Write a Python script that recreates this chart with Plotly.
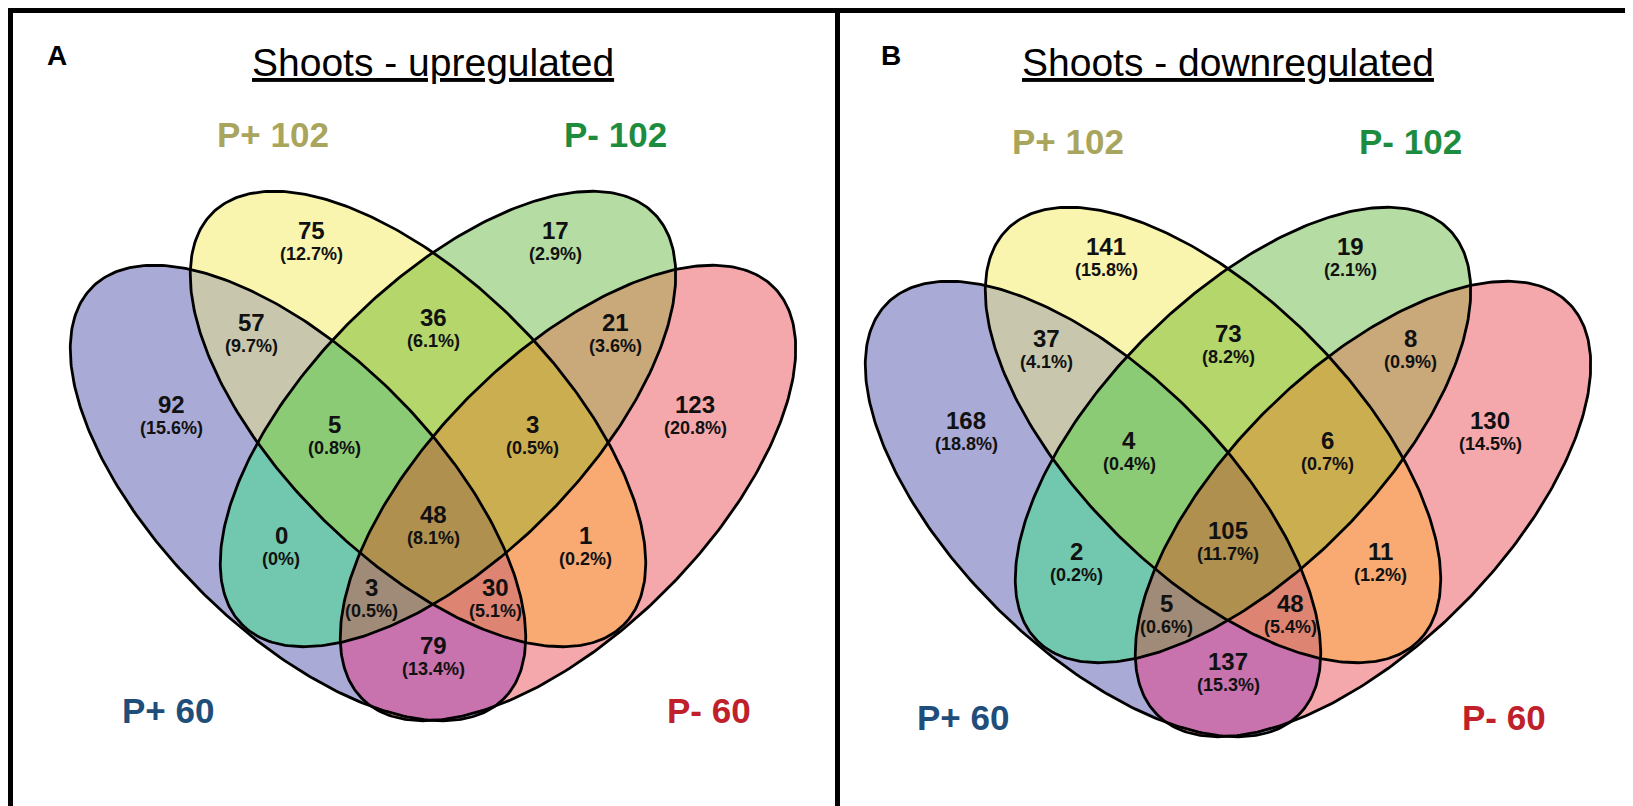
import math
import plotly.graph_objects as go

# sets: P+ 60 (blue), P+ 102 (yellow), P- 102 (green), P- 60 (pink)
set_names = ["P+ 60", "P+ 102", "P- 102", "P- 60"]
set_label_colors = ["#1f4e7a", "#a9a55c", "#1e8c3f", "#c0202a"]

# region keys: membership in (P+ 60, P+ 102, P- 102, P- 60)
regions = ["1000", "0100", "0010", "0001",
           "1100", "1010", "1001", "0110", "0101", "0011",
           "1110", "1101", "1011", "0111", "1111"]

up_counts = [92, 75, 17, 123, 57, 0, 79, 36, 1, 21, 5, 30, 3, 3, 48]
up_pcts = ["15.6%", "12.7%", "2.9%", "20.8%", "9.7%", "0%", "13.4%", "6.1%",
           "0.2%", "3.6%", "0.8%", "5.1%", "0.5%", "0.5%", "8.1%"]

down_counts = [168, 141, 19, 130, 37, 2, 137, 73, 11, 8, 4, 48, 5, 6, 105]
down_pcts = ["18.8%", "15.8%", "2.1%", "14.5%", "4.1%", "0.2%", "15.3%", "8.2%",
             "1.2%", "0.9%", "0.4%", "5.4%", "0.6%", "0.7%", "11.7%"]

panel_titles = ["Shoots - upregulated", "Shoots - downregulated"]
panel_letters = ["A", "B"]

# ---- drawing geometry (pixel space, y down) ----
W, H = 1633, 806
ELL_A, ELL_B = 291, 138
ellipses = [(290, 485, 45), (410, 411, 45), (440, 411, 135), (560, 485, 135)]
region_colors = {
    "1000": "#aaaad6", "0100": "#f9f5af", "0010": "#b5dca3", "0001": "#f5a8ac",
    "1100": "#c8c7ae", "1010": "#72c8ae", "1001": "#c872ae", "0110": "#b4d66b",
    "0101": "#f8aa72", "0011": "#c9a87a", "1110": "#8ccb76", "1101": "#de8472",
    "1011": "#a08a78", "0111": "#cbae50", "1111": "#b0904e",
}
label_pos = {
    "1000": (163, 402), "0100": (303, 228), "0010": (547, 228), "0001": (687, 402),
    "1100": (243, 320), "1010": (273, 533), "1001": (425, 643), "0110": (425, 315),
    "0101": (577, 533), "0011": (607, 320), "1110": (326, 422), "1101": (487, 585),
    "1011": (363, 585), "0111": (524, 422), "1111": (425, 512),
}
set_label_pos = [(160, 710), (265, 134), (607, 134), (701, 710)]
panel_offsets = [(0, 0), (795, 16)]
set_label_offsets = [(0, 0), (795, 7)]
title_x = [425, 1220]
letter_x = [49, 883]


def ellipse_pts(cx, cy, ang, n=360):
    t = math.radians(ang)
    pts = []
    for i in range(n):
        s = 2 * math.pi * i / n
        u, v = ELL_A * math.cos(s), ELL_B * math.sin(s)
        pts.append((cx + u * math.cos(t) - v * math.sin(t),
                    cy + u * math.sin(t) + v * math.cos(t)))
    return pts


def cross(a, b, p):
    return (b[0] - a[0]) * (p[1] - a[1]) - (b[1] - a[1]) * (p[0] - a[0])


def seg_int(s, e, a, b):
    d1 = cross(a, b, s)
    d2 = cross(a, b, e)
    k = d1 / (d1 - d2)
    return (s[0] + k * (e[0] - s[0]), s[1] + k * (e[1] - s[1]))


def clip(subject, clipper):
    mx = sum(p[0] for p in clipper) / len(clipper)
    my = sum(p[1] for p in clipper) / len(clipper)
    out = subject
    n = len(clipper)
    for i in range(n):
        a, b = clipper[i], clipper[(i + 1) % n]
        ref = cross(a, b, (mx, my))
        inp, out = out, []
        if not inp:
            break
        s = inp[-1]
        for e in inp:
            ein = cross(a, b, e) * ref >= 0
            sin_ = cross(a, b, s) * ref >= 0
            if ein:
                if not sin_:
                    out.append(seg_int(s, e, a, b))
                out.append(e)
            elif sin_:
                out.append(seg_int(s, e, a, b))
            s = e
    return out


def label(x, y, text, size, color, bold=True):
    # y is where the glyphs should be centred; plotly centres the text box,
    # which sits a little lower, so nudge it up
    if bold:
        text = f"<b>{text}</b>"
    return dict(x=x, y=y - 0.22 * size, text=text, showarrow=False,
                xanchor="center", yanchor="middle",
                font=dict(size=size, color=color))


fig = go.Figure()
annotations = []
paint_order = sorted(regions, key=lambda r: r.count("1"))

for p, (counts, pcts) in enumerate([(up_counts, up_pcts), (down_counts, down_pcts)]):
    dx, dy = panel_offsets[p]
    polys = [ellipse_pts(cx + dx, cy + dy, ang) for cx, cy, ang in ellipses]

    # region fills, lowest order first so higher intersections paint over
    for r in paint_order:
        idx = [i for i, c in enumerate(r) if c == "1"]
        poly = polys[idx[0]]
        for j in idx[1:]:
            poly = clip(poly, polys[j])
        if not poly:
            continue
        xs = [q[0] for q in poly] + [poly[0][0]]
        ys = [q[1] for q in poly] + [poly[0][1]]
        fig.add_trace(go.Scatter(x=xs, y=ys, mode="lines", fill="toself",
                                 fillcolor=region_colors[r],
                                 line=dict(color=region_colors[r], width=0.8),
                                 hoverinfo="skip"))

    # ellipse outlines
    for poly in polys:
        xs = [q[0] for q in poly] + [poly[0][0]]
        ys = [q[1] for q in poly] + [poly[0][1]]
        fig.add_trace(go.Scatter(x=xs, y=ys, mode="lines",
                                 line=dict(color="black", width=2.8),
                                 hoverinfo="skip"))

    # region labels
    for r, n, pc in zip(regions, counts, pcts):
        lx, ly = label_pos[r]
        annotations.append(label(lx + dx, ly + dy, str(n), 24, "#111111"))
        annotations.append(label(lx + dx, ly + dy + 22, f"({pc})", 18, "#111111"))

    # set labels
    sdx, sdy = set_label_offsets[p]
    for name, col, (sx, sy) in zip(set_names, set_label_colors, set_label_pos):
        annotations.append(label(sx + sdx, sy + sdy, name, 35, col))

    annotations.append(label(title_x[p], 63, f"<u>{panel_titles[p]}</u>", 39,
                             "black", bold=False))
    annotations.append(label(letter_x[p], 54, panel_letters[p], 28, "black"))

# panel frames
shapes = [
    dict(type="rect", x0=2.5, y0=2.5, x1=829.5, y1=802.5,
         line=dict(color="black", width=5)),
    dict(type="rect", x0=829.5, y0=2.5, x1=1629.5, y1=802.5,
         line=dict(color="black", width=5)),
]

fig.update_layout(
    width=W, height=H,
    margin=dict(l=0, r=0, t=0, b=0),
    paper_bgcolor="white", plot_bgcolor="white",
    showlegend=False,
    font=dict(family="Liberation Sans, Arial, sans-serif"),
    xaxis=dict(range=[0, W], visible=False, fixedrange=True),
    yaxis=dict(range=[H, 0], visible=False, fixedrange=True),
    annotations=annotations,
    shapes=shapes,
)

fig.write_html("out.html")
